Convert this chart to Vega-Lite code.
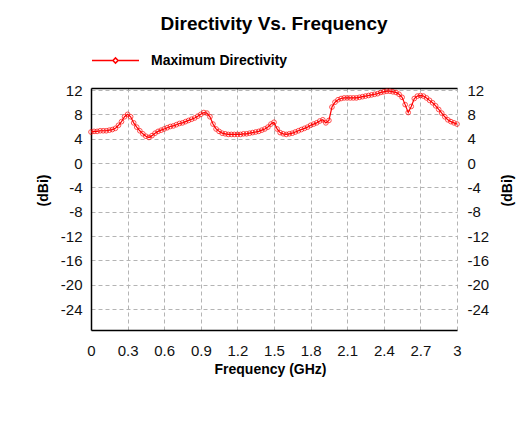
{
  "$schema": "https://vega.github.io/schema/vega-lite/v6.json",
  "width": 366,
  "height": 242,
  "autosize": {"type": "none"},
  "padding": {"left": 91, "top": 88, "right": 72, "bottom": 102},
  "background": "white",
  "title": {"text": "Directivity Vs. Frequency", "fontSize": 19, "fontWeight": "bold", "font": "Liberation Sans", "color": "#000000", "anchor": "middle", "frame": "group", "offset": 2},
  "config": {
    "view": {"stroke": null},
    "axis": {"labelFont": "Liberation Sans", "labelFontSize": 14, "labelColor": "#111111", "titleFont": "Liberation Sans", "titleFontSize": 14, "titleFontWeight": "bold", "titleColor": "#000000", "ticks": false, "tickSize": 0, "gridColor": "#b4b4b4", "gridDash": [4, 3], "gridWidth": 1, "domainColor": "#000000", "domainWidth": 1.5}
  },
  "data": {"values": [
    {"f": 0.000, "d": 5.1}, {"f": 0.025, "d": 5.2}, {"f": 0.050, "d": 5.2}, {"f": 0.075, "d": 5.3}, {"f": 0.100, "d": 5.3},
    {"f": 0.125, "d": 5.3}, {"f": 0.150, "d": 5.4}, {"f": 0.175, "d": 5.5}, {"f": 0.200, "d": 5.7}, {"f": 0.225, "d": 6.2},
    {"f": 0.250, "d": 6.8}, {"f": 0.275, "d": 7.6}, {"f": 0.300, "d": 8.0}, {"f": 0.325, "d": 7.6}, {"f": 0.350, "d": 6.6},
    {"f": 0.375, "d": 5.9}, {"f": 0.400, "d": 5.3}, {"f": 0.425, "d": 4.8}, {"f": 0.450, "d": 4.4}, {"f": 0.475, "d": 4.2},
    {"f": 0.500, "d": 4.5}, {"f": 0.525, "d": 4.9}, {"f": 0.550, "d": 5.2}, {"f": 0.575, "d": 5.4}, {"f": 0.600, "d": 5.6},
    {"f": 0.625, "d": 5.8}, {"f": 0.650, "d": 6.0}, {"f": 0.675, "d": 6.1}, {"f": 0.700, "d": 6.3}, {"f": 0.725, "d": 6.5},
    {"f": 0.750, "d": 6.6}, {"f": 0.775, "d": 6.8}, {"f": 0.800, "d": 7.0}, {"f": 0.825, "d": 7.2}, {"f": 0.850, "d": 7.4},
    {"f": 0.875, "d": 7.7}, {"f": 0.900, "d": 8.0}, {"f": 0.925, "d": 8.3}, {"f": 0.950, "d": 8.2}, {"f": 0.975, "d": 7.6},
    {"f": 1.000, "d": 6.4}, {"f": 1.025, "d": 5.6}, {"f": 1.050, "d": 5.2}, {"f": 1.075, "d": 4.9}, {"f": 1.100, "d": 4.8},
    {"f": 1.125, "d": 4.7}, {"f": 1.150, "d": 4.7}, {"f": 1.175, "d": 4.7}, {"f": 1.200, "d": 4.7}, {"f": 1.225, "d": 4.7},
    {"f": 1.250, "d": 4.8}, {"f": 1.275, "d": 4.8}, {"f": 1.300, "d": 4.9}, {"f": 1.325, "d": 5.0}, {"f": 1.350, "d": 5.1},
    {"f": 1.375, "d": 5.2}, {"f": 1.400, "d": 5.4}, {"f": 1.425, "d": 5.6}, {"f": 1.450, "d": 5.9}, {"f": 1.475, "d": 6.4},
    {"f": 1.500, "d": 6.7}, {"f": 1.525, "d": 5.6}, {"f": 1.550, "d": 5.0}, {"f": 1.575, "d": 4.8}, {"f": 1.600, "d": 4.7},
    {"f": 1.625, "d": 4.8}, {"f": 1.650, "d": 4.9}, {"f": 1.675, "d": 5.1}, {"f": 1.700, "d": 5.3}, {"f": 1.725, "d": 5.5},
    {"f": 1.750, "d": 5.7}, {"f": 1.775, "d": 5.9}, {"f": 1.800, "d": 6.2}, {"f": 1.825, "d": 6.4}, {"f": 1.850, "d": 6.6},
    {"f": 1.875, "d": 6.9}, {"f": 1.900, "d": 7.1}, {"f": 1.925, "d": 6.6}, {"f": 1.950, "d": 7.0}, {"f": 1.975, "d": 9.2},
    {"f": 2.000, "d": 10.0}, {"f": 2.025, "d": 10.4}, {"f": 2.050, "d": 10.6}, {"f": 2.075, "d": 10.7}, {"f": 2.100, "d": 10.7},
    {"f": 2.125, "d": 10.7}, {"f": 2.150, "d": 10.7}, {"f": 2.175, "d": 10.7}, {"f": 2.200, "d": 10.8}, {"f": 2.225, "d": 10.9},
    {"f": 2.250, "d": 11.0}, {"f": 2.275, "d": 11.1}, {"f": 2.300, "d": 11.2}, {"f": 2.325, "d": 11.3}, {"f": 2.350, "d": 11.4},
    {"f": 2.375, "d": 11.6}, {"f": 2.400, "d": 11.7}, {"f": 2.425, "d": 11.8}, {"f": 2.450, "d": 11.8}, {"f": 2.475, "d": 11.7},
    {"f": 2.500, "d": 11.6}, {"f": 2.525, "d": 11.3}, {"f": 2.550, "d": 10.8}, {"f": 2.575, "d": 9.6}, {"f": 2.600, "d": 8.3},
    {"f": 2.625, "d": 9.3}, {"f": 2.650, "d": 10.6}, {"f": 2.675, "d": 11.0}, {"f": 2.700, "d": 11.1}, {"f": 2.725, "d": 11.0},
    {"f": 2.750, "d": 10.7}, {"f": 2.775, "d": 10.3}, {"f": 2.800, "d": 9.9}, {"f": 2.825, "d": 9.4}, {"f": 2.850, "d": 8.8},
    {"f": 2.875, "d": 8.2}, {"f": 2.900, "d": 7.6}, {"f": 2.925, "d": 7.1}, {"f": 2.950, "d": 6.8}, {"f": 2.975, "d": 6.6},
    {"f": 3.000, "d": 6.4}
  ]},
  "layer": [
    {
      "mark": {"type": "line", "strokeWidth": 1.2, "clip": false},
      "encoding": {
        "x": {"field": "f", "type": "quantitative", "scale": {"domain": [0, 3], "nice": false, "zero": false},
          "axis": {"orient": "bottom", "values": [0, 0.3, 0.6, 0.9, 1.2, 1.5, 1.8, 2.1, 2.4, 2.7, 3], "format": "~g", "grid": true, "labelPadding": 13, "labelFontSize": 15, "title": "Frequency (GHz)", "titleX": 179, "titleY": 39, "titleBaseline": "middle", "titleAlign": "center", "labelFlush": false}},
        "y": {"field": "d", "type": "quantitative", "scale": {"domain": [-27.45, 12.33], "nice": false, "zero": false},
          "axis": {"orient": "left", "values": [12, 8, 4, 0, -4, -8, -12, -16, -20, -24], "labelExpr": "datum.value + ''", "grid": true, "labelPadding": 9, "labelFontSize": 15, "title": "(dBi)", "titleAngle": -90, "titleX": -48, "titleY": 102, "titleBaseline": "middle", "titleAlign": "center"}},
        "color": {"datum": "Maximum Directivity", "type": "nominal", "scale": {"range": ["#ff0000"]},
          "legend": {"title": null, "orient": "none", "legendX": 0, "legendY": -52, "symbolType": "M-1,0H-0.11M0.11,0H1M-0.11,0L0,-0.11L0.11,0L0,0.11Z", "symbolSize": 2209, "symbolStrokeWidth": 1.5, "symbolStrokeColor": "#ff0000", "symbolFillColor": "transparent", "labelFont": "Liberation Sans", "labelFontSize": 14, "labelFontWeight": "bold", "labelColor": "#000000", "labelOffset": 11, "labelLimit": 300}}
      }
    },
    {
      "mark": {"type": "point", "shape": "circle", "size": 22, "strokeWidth": 1, "filled": false, "color": "#ff0000", "clip": false},
      "encoding": {
        "x": {"field": "f", "type": "quantitative", "scale": {"domain": [0, 3], "nice": false, "zero": false},
          "axis": {"orient": "top", "labels": false, "grid": false, "title": null, "values": []}},
        "y": {"field": "d", "type": "quantitative", "scale": {"domain": [-27.45, 12.33], "nice": false, "zero": false},
          "axis": {"orient": "right", "values": [12, 8, 4, 0, -4, -8, -12, -16, -20, -24], "labelExpr": "datum.value + ''", "grid": false, "domain": false, "labelPadding": 10, "labelFontSize": 15, "title": "(dBi)", "titleAngle": -90, "titleX": 50, "titleY": 102, "titleBaseline": "middle", "titleAlign": "center"}}
      }
    }
  ],
  "resolve": {"axis": {"x": "independent", "y": "independent"}}
}
